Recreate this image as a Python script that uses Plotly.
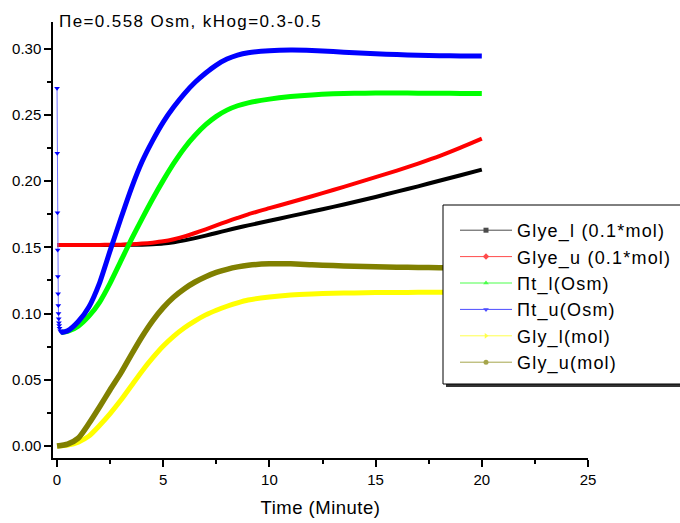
import plotly.graph_objects as go

# ---- data ----
t_main = [0.2, 0.5, 1, 1.5, 2, 2.5, 3, 3.5, 4, 4.5, 5, 5.5, 6, 6.5, 7, 7.5, 8, 8.5, 9,
          10, 11, 12, 13, 14, 15, 16, 17, 18, 19, 20]
t_full = [0, 0.5, 1, 1.5, 2, 2.5, 3, 3.5, 4, 4.5, 5, 5.5, 6, 6.5, 7, 7.5, 8, 8.5, 9,
          10, 11, 12, 13, 14, 15, 16, 17, 18, 19, 20]

glye_l = [0.1517, 0.1517, 0.1517, 0.1517, 0.1517, 0.1517, 0.1518, 0.1519, 0.152, 0.1523, 0.1528,
          0.1538, 0.1552, 0.1569, 0.1588, 0.1608, 0.1628, 0.1647, 0.1665,
          0.170, 0.1735, 0.177, 0.1805, 0.1842, 0.188, 0.192, 0.196, 0.2002, 0.2044, 0.2086]
glye_u = [0.1517, 0.1517, 0.1517, 0.1517, 0.1518, 0.1519, 0.152, 0.1523, 0.1528, 0.1535, 0.1545,
          0.1561, 0.1582, 0.1608, 0.1636, 0.1665, 0.1694, 0.1722, 0.1749,
          0.1795, 0.184, 0.1885, 0.1932, 0.198, 0.2029, 0.2079, 0.2132, 0.2188, 0.2252, 0.232]
pit_l = [0.0857, 0.0865, 0.0905, 0.098, 0.1085, 0.123, 0.1395, 0.156, 0.1715, 0.1865, 0.2005,
         0.2135, 0.225, 0.2345, 0.2425, 0.2488, 0.2535, 0.2568, 0.259,
         0.2618, 0.2637, 0.265, 0.2658, 0.2662, 0.2664, 0.2664, 0.2663, 0.2662, 0.2661, 0.266]
pit_u = [0.0857, 0.087, 0.094, 0.105, 0.123, 0.1475, 0.1715, 0.1945, 0.2145, 0.2305, 0.2445,
         0.256, 0.266, 0.2745, 0.2815, 0.2875, 0.292, 0.295, 0.2968,
         0.2983, 0.2988, 0.2985, 0.2977, 0.2968, 0.296, 0.2954, 0.2949, 0.2946, 0.2944, 0.2943]
t_early = [0, 0.01, 0.02, 0.03, 0.04, 0.05, 0.06, 0.07, 0.08, 0.09, 0.10, 0.12, 0.15, 0.2]
pit_u_early = [0.270, 0.221, 0.176, 0.148, 0.128, 0.115, 0.106, 0.100, 0.096, 0.093,
               0.091, 0.089, 0.087, 0.0857]
gly_l = [0, 0.0008, 0.003, 0.0075, 0.0155, 0.0245, 0.0345, 0.0455, 0.0565, 0.0665, 0.0755,
         0.083, 0.0893, 0.0945, 0.099, 0.1025, 0.1055, 0.1081, 0.1102,
         0.1125, 0.114, 0.1148, 0.1153, 0.1156, 0.1158, 0.1159, 0.116, 0.116, 0.116, 0.116]
gly_u = [0, 0.0015, 0.006, 0.017, 0.0295, 0.0425, 0.055, 0.069, 0.0825, 0.0945, 0.1045,
         0.1125, 0.1188, 0.1238, 0.1278, 0.131, 0.1334, 0.1352, 0.1364,
         0.1375, 0.1375, 0.1368, 0.1362, 0.1357, 0.1353, 0.135, 0.1348, 0.1346, 0.1344, 0.1342]

names = ["Glye_l (0.1*mol)", "Glye_u (0.1*mol)", "\u03a0t_l(Osm)", "\u03a0t_u(Osm)",
         "Gly_l(mol)", "Gly_u(mol)"]
colors = ["#000000", "#ff0000", "#00ff00", "#0000ff", "#ffff00", "#808000"]
symbols = ["square", "diamond", "triangle-up", "triangle-down", "triangle-right", "circle"]
xs = [t_full, t_full, t_main, t_main, t_full, t_full]
ys = [glye_l, glye_u, pit_l, pit_u, gly_l, gly_u]
widths = [4, 4, 5, 5, 5, 5.5]

FONT = "Liberation Sans, Arial, sans-serif"
# plot area in pixels
PL, PR, PT, PB = 53, 588, 22, 458
def px(x):
    return (x - PL) / (PR - PL)
def py(y):
    return (PB - y) / (PB - PT)

fig = go.Figure()

for i in range(6):
    if i == 3:
        fig.add_trace(go.Scatter(
            x=t_early, y=pit_u_early, mode="lines+markers",
            line=dict(color="#6f6fff", width=1),
            marker=dict(symbol="triangle-down", size=5, color="#0000ff"),
            showlegend=False, hoverinfo="skip"))
    fig.add_trace(go.Scatter(
        x=xs[i], y=ys[i], mode="lines",
        line=dict(color=colors[i], width=widths[i], shape="spline", smoothing=0.6),
        showlegend=False))
    fig.add_trace(go.Scatter(
        x=[None], y=[None], mode="lines+markers",
        name="<span style='letter-spacing:1.2px'>" + names[i] + "</span>",
        line=dict(color=colors[i], width=1),
        opacity=0.7,
        marker=dict(symbol=symbols[i], size=5, color=colors[i])))

# legend frame with shadow (Origin style)
fig.add_shape(type="rect", xref="paper", yref="paper", layer="above",
              x0=px(446), x1=px(705), y0=py(208), y1=py(387),
              fillcolor="#333333", line=dict(width=0))
fig.add_shape(type="rect", xref="paper", yref="paper", layer="above",
              x0=px(443), x1=px(700), y0=py(205), y1=py(384),
              fillcolor="white", line=dict(color="black", width=1))

fig.update_layout(
    width=680, height=523,
    margin=dict(l=PL, r=680 - PR, t=PT, b=523 - PB, autoexpand=False),
    paper_bgcolor="white", plot_bgcolor="white",
    font=dict(family=FONT, size=15, color="black"),
    xaxis=dict(range=[-0.19, 25], tickmode="linear", tick0=0, dtick=5, automargin=False,
               showline=True, linecolor="black", linewidth=1.5,
               ticks="outside", ticklen=7, tickwidth=1.5, tickcolor="black",
               minor=dict(dtick=2.5, ticks="outside", ticklen=4, tickwidth=1.5, tickcolor="black"),
               showgrid=False, zeroline=False,
               title=dict(text="<span style='letter-spacing:0.5px'>Time (Minute)</span>",
                          font=dict(size=18.5), standoff=14),
               tickfont=dict(size=15)),
    yaxis=dict(range=[-0.009, 0.32], tickmode="linear", tick0=0, dtick=0.05, tickformat=".2f",
               automargin=False,
               showline=True, linecolor="black", linewidth=1.5,
               ticks="outside", ticklen=7, tickwidth=1.5, tickcolor="black",
               minor=dict(dtick=0.025, ticks="outside", ticklen=4, tickwidth=1.5, tickcolor="black"),
               showgrid=False, zeroline=False, tickfont=dict(size=15)),
    legend=dict(x=px(455), y=py(212), xanchor="left", yanchor="top",
                bgcolor="rgba(0,0,0,0)", borderwidth=0,
                font=dict(size=18), itemwidth=52),
    showlegend=True,
)

fig.add_annotation(xref="paper", yref="paper", x=px(57), y=py(21),
                   xanchor="left", yanchor="middle", showarrow=False,
                   text="<span style='letter-spacing:1.4px'>\u03a0e=0.558 Osm, kHog=0.3-0.5</span>",
                   font=dict(size=17, family=FONT))

fig.write_html("out.html", config={"displayModeBar": False},
               post_script="document.body.style.margin='0';document.body.style.overflow='hidden';")
